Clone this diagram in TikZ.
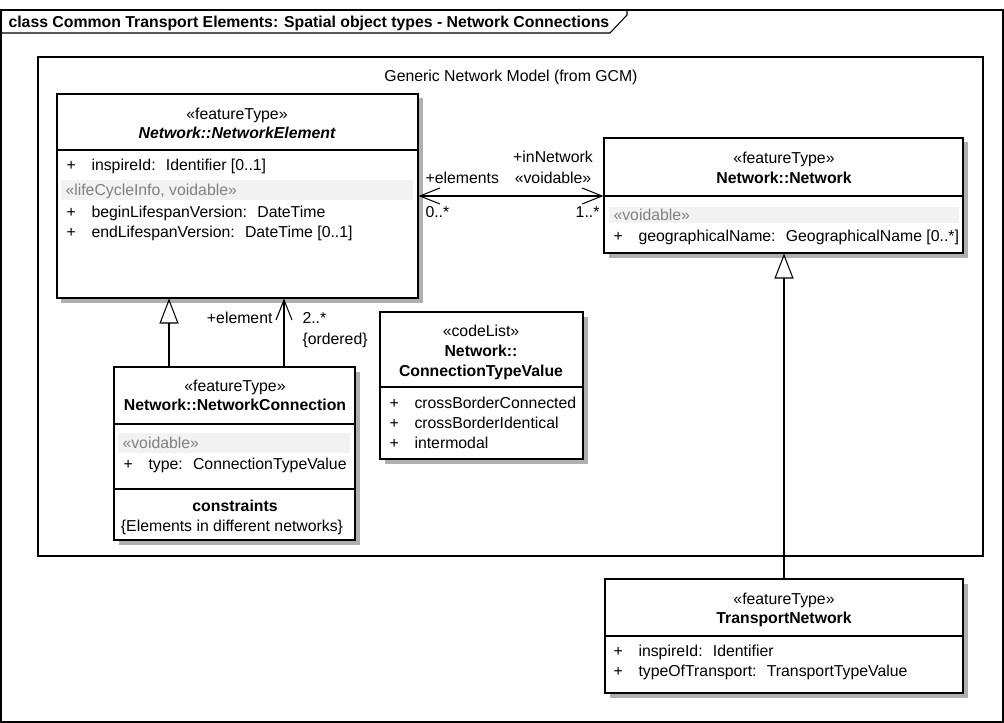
\documentclass[tikz,border=0pt]{standalone}
\usepackage{fontspec}
\setmainfont{Liberation Sans}
\usetikzlibrary{arrows.meta,fit,shadows}

\definecolor{bandgray}{RGB}{242,242,242}
\definecolor{softgray}{RGB}{128,128,128}
\definecolor{shadowgray}{RGB}{175,175,175}

\tikzset{
  umlbarb/.tip={Straight Barb[length=0.4cm,width=0.32cm]},
  umlgen/.tip={Triangle[open,length=0.5cm,width=0.38cm]},
  classbox/.style={draw, fill=white, inner sep=0pt, line width=0.6pt,
    drop shadow={shadow xshift=0.09cm, shadow yshift=-0.09cm, fill=shadowgray, opacity=1}},
  pkgbox/.style={draw, inner sep=0pt, line width=0.6pt},
  txt/.style={inner sep=0pt, text height=1.6ex, text depth=0.45ex,
    font=\fontsize{9}{10.5}\selectfont},
  hd/.style={txt, font=\fontsize{9}{10.5}\selectfont\bfseries},
  attr/.style={txt, anchor=west},
  grey/.style={txt, anchor=west, text=softgray},
  band/.style={fill=bandgray},
  gen/.style={line width=0.6pt, -umlgen},
  assoc/.style={line width=0.6pt}
}

\begin{document}
\begin{tikzpicture}[x=0.02cm, y=-0.02cm, line width=0.6pt]
    \useasboundingbox (0,0) rectangle (1004,723);

    % diagram frame
    \draw (1,10) rectangle (1003,722);
    \draw (1,33) -- (610,33) -- (627,15) -- (627,10);
    \node[hd, anchor=west] (title) at (8,22) {class Common Transport Elements: Spatial object types - Network Connections};

    % package
    \node[pkgbox, fit={(38,57) (983,556)}] (gnm) {};
    \node[txt] (gnmlabel) at (511,76) {Generic Network Model (from GCM)};

    % classes
    \node[classbox, fit={(57,94) (418,298)}] (ne) {};
    \node[classbox, fit={(604,138) (963,253)}] (nw) {};
    \node[classbox, fit={(114,367) (355,540)}] (nc) {};
    \node[classbox, fit={(380,312) (583,459)}] (ctv) {};
    \node[classbox, fit={(605,579) (963,693)}] (tn) {};

    % Network::NetworkElement
    \node[txt] (ne-st) at (237,114) {«featureType»};
    \node[hd, font=\fontsize{9}{10.5}\selectfont\bfseries\itshape] (ne-name) at (237,133) {Network::NetworkElement};
    \draw (57,150) -- (418,150);
    \fill[band] (61,180) rectangle (413,200);
    \node[attr] (ne-a1) at (66,165) {\makebox[0.5cm][l]{+}inspireId:~ Identifier [0..1]};
    \node[grey] (ne-g1) at (65,190) {«lifeCycleInfo, voidable»};
    \node[attr] (ne-a2) at (66,212) {\makebox[0.5cm][l]{+}beginLifespanVersion:~ DateTime};
    \node[attr] (ne-a3) at (66,232) {\makebox[0.5cm][l]{+}endLifespanVersion:~ DateTime [0..1]};

    % Network::Network
    \node[txt] (nw-st) at (784,158) {«featureType»};
    \node[hd] (nw-name) at (784,178) {Network::Network};
    \draw (604,196) -- (963,196);
    \fill[band] (609,207) rectangle (959,223);
    \node[grey] (nw-g1) at (613,215) {«voidable»};
    \node[attr] (nw-a1) at (613,236) {\makebox[0.5cm][l]{+}geographicalName:~ GeographicalName [0..*]};

    % Network::NetworkConnection
    \node[txt] (nc-st) at (235,386) {«featureType»};
    \node[hd] (nc-name) at (235,405) {Network::NetworkConnection};
    \draw (114,424) -- (355,424);
    \fill[band] (118,433) rectangle (350,453);
    \node[grey] (nc-g1) at (122,443) {«voidable»};
    \node[attr] (nc-a1) at (123,464) {\makebox[0.5cm][l]{+}type:~ ConnectionTypeValue};
    \draw (114,489) -- (355,489);
    \node[hd] (nc-ct) at (235,506) {constraints};
    \node[txt] (nc-c1) at (232,526) {\{Elements in different networks\}};

    % Network::ConnectionTypeValue
    \node[txt] (ctv-st) at (481,331) {«codeList»};
    \node[hd] (ctv-name1) at (481,351) {Network::};
    \node[hd] (ctv-name2) at (481,371) {ConnectionTypeValue};
    \draw (380,387) -- (583,387);
    \node[attr] (ctv-a1) at (389,403) {\makebox[0.5cm][l]{+}crossBorderConnected};
    \node[attr] (ctv-a2) at (389,423) {\makebox[0.5cm][l]{+}crossBorderIdentical};
    \node[attr] (ctv-a3) at (389,443) {\makebox[0.5cm][l]{+}intermodal};

    % TransportNetwork
    \node[txt] (tn-st) at (784,599) {«featureType»};
    \node[hd] (tn-name) at (784,618) {TransportNetwork};
    \draw (605,636) -- (963,636);
    \node[attr] (tn-a1) at (613,651) {\makebox[0.5cm][l]{+}inspireId:~ Identifier};
    \node[attr] (tn-a2) at (613,671) {\makebox[0.5cm][l]{+}typeOfTransport:~ TransportTypeValue};

    % connectors
    \coordinate (gx) at (169,0);
    \coordinate (ax) at (284,0);
    \begin{scope}[every edge/.style={draw, line width=0.6pt}]
        \path [umlbarb-umlbarb] (ne.east) edge (ne.east -| nw.west);
        \path [-umlbarb] (nc.north -| ax) edge (ne.south -| ax);
        \path [gen] (nc.north -| gx) edge (ne.south -| gx);
        \path [gen] (tn.north) edge (tn.north |- nw.south);
    \end{scope}

    % association ends
    \node[attr] (l-elements) at (425,178) {+elements};
    \node[attr] (l-m1) at (425,212) {0..*};
    \node[txt] (l-innet) at (553,157) {+inNetwork};
    \node[txt] (l-void) at (553,178) {«voidable»};
    \node[txt, anchor=east] (l-m2) at (600,212) {1..*};
    \node[txt, anchor=east] (l-element) at (273,318) {+element};
    \node[attr] (l-m3) at (302,318) {2..*};
    \node[attr] (l-ord) at (302,339) {\{ordered\}};
\end{tikzpicture}
\end{document}
